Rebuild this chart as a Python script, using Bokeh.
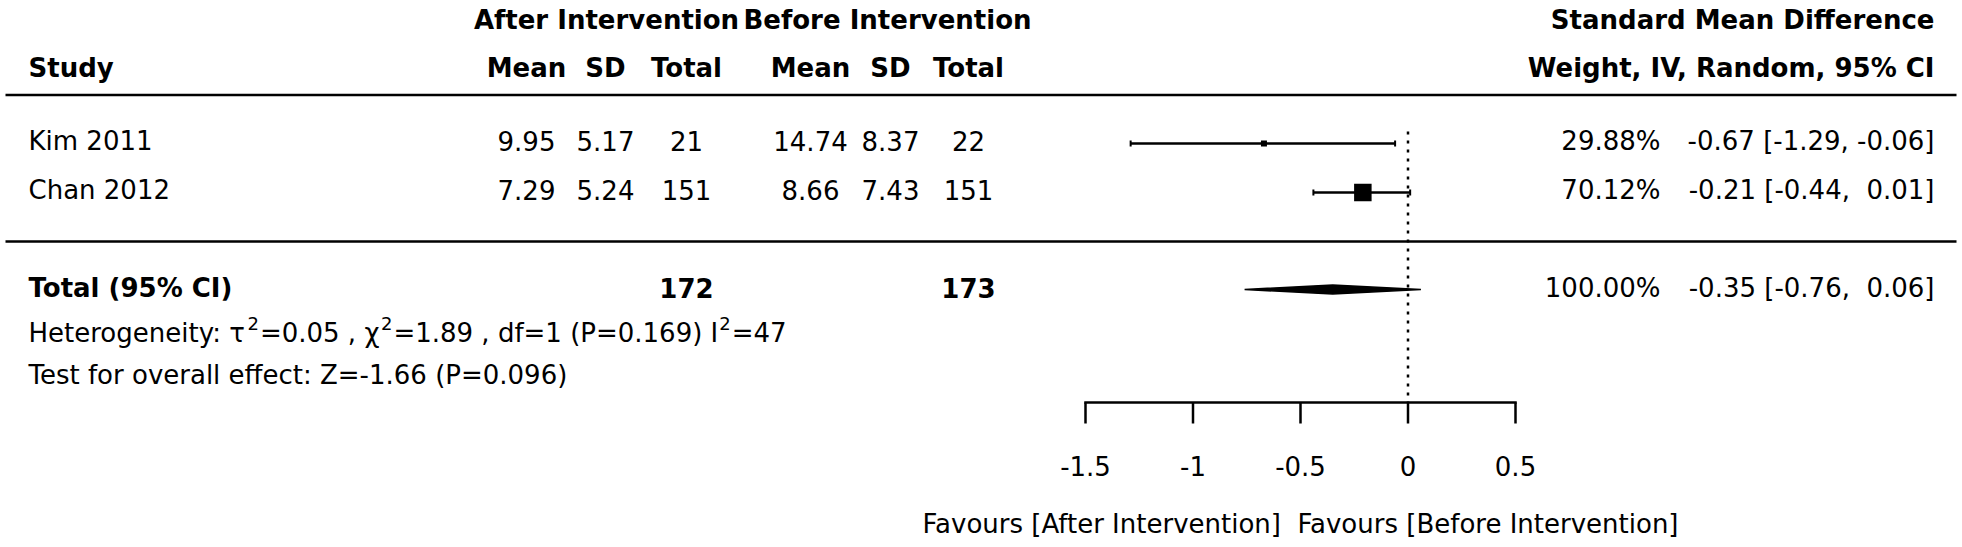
from bokeh.plotting import figure
from bokeh.models import Range1d, ColumnDataSource
from bokeh.core.properties import value
from bokeh.embed import file_html
from bokeh.resources import INLINE

# ---------------- data ----------------
studies = ["Kim 2011", "Chan 2012"]
after_mean = [9.95, 7.29]
after_sd = [5.17, 5.24]
after_total = [21, 151]
before_mean = [14.74, 8.66]
before_sd = [8.37, 7.43]
before_total = [22, 151]
weight_pct = [29.88, 70.12]
smd = [-0.67, -0.21]
smd_lo = [-1.29, -0.44]
smd_hi = [-0.06, 0.01]

total_after = 172
total_before = 173
pooled_weight = 100.00
pooled_smd = -0.35
pooled_lo = -0.76
pooled_hi = 0.06

tau2 = 0.05
chi2 = 1.89
het_df = 1
het_p = 0.169
i2 = 47
z_value = -1.66
z_p = 0.096

axis_ticks = [-1.5, -1, -0.5, 0, 0.5]
label_left = "Favours [After Intervention]"
label_right = "Favours [Before Intervention]"

# ---------------- layout (screen pixels) ----------------
W, H = 1962, 547
ZERO_PX, PX_PER_UNIT = 1407.5, 215.0

FONT = value("DejaVu Sans")
FS_PX = 26
FS = f"{FS_PX}px"
SUP_FS = "18px"

ROW_H1, ROW_H2 = 19, 67
ROW_STUDY = [140, 189]
MARK_STUDY = [143, 192]
ROW_TOTAL, MARK_TOTAL = 287, 289
ROW_HET, ROW_TEST = 332, 374
RULE_1, RULE_2 = 94.5, 241
RULE_X = (5, 1956)
Y_AXIS, TICK_LEN, Y_TICKLAB, Y_XLAB = 402, 21, 465, 523
REF_TOP = 131

X_LEFT = 28
COL_A = [526, 605, 686]
COL_B = [810, 890, 968]
HEAD_A, HEAD_B = 606, 887
X_WEIGHT = 1660
X_RIGHT = 1934
SQUARE_SIZE = [6, 17.5]

p = figure(width=W, height=H,
           x_range=Range1d(0, W), y_range=Range1d(H, 0),
           x_axis_type=None, y_axis_type=None,
           toolbar_location=None, output_backend="svg",
           min_border_left=0, min_border_right=0, min_border_top=0, min_border_bottom=0)
p.outline_line_color = None
p.background_fill_color = "white"
p.border_fill_color = "white"
p.extra_x_ranges = {"smd": Range1d((0 - ZERO_PX) / PX_PER_UNIT, (W - ZERO_PX) / PX_PER_UNIT)}


def add_text(xs, ys, texts, align, bold=False, size=FS, x_range_name="default"):
    src = ColumnDataSource(dict(x=xs, y=ys, t=texts))
    p.text(x="x", y="y", text="t", source=src, text_align=align, text_baseline="middle",
           text_font=FONT, text_font_size=size, text_color="black",
           text_font_style="bold" if bold else "normal", x_range_name=x_range_name)


# ---------------- effect-size axis (drawn on the SMD scale) ----------------
lo_t, hi_t = min(axis_ticks), max(axis_ticks)
p.segment(x0=[lo_t], x1=[hi_t], y0=[Y_AXIS], y1=[Y_AXIS], x_range_name="smd",
          line_color="black", line_width=2.5, line_cap="square")
p.segment(x0=axis_ticks, x1=axis_ticks, y0=[Y_AXIS] * len(axis_ticks),
          y1=[Y_AXIS + TICK_LEN] * len(axis_ticks), x_range_name="smd",
          line_color="black", line_width=2.5)
add_text(axis_ticks, [Y_TICKLAB] * len(axis_ticks), [f"{t:g}" for t in axis_ticks],
         "center", x_range_name="smd")
add_text([(lo_t + hi_t) / 2], [Y_XLAB], [label_left + " \u00a0" + label_right],
         "center", x_range_name="smd")

# ---------------- rules & reference line ----------------
p.segment(x0=[RULE_X[0]] * 2, x1=[RULE_X[1]] * 2, y0=[RULE_1, RULE_2], y1=[RULE_1, RULE_2],
          line_color="black", line_width=2.5)
p.segment(x0=[0], x1=[0], y0=[REF_TOP], y1=[Y_AXIS], x_range_name="smd",
          line_color="black", line_width=2.5, line_dash="3 6")

# ---------------- study marks ----------------
ci_src = ColumnDataSource(dict(lo=smd_lo, hi=smd_hi, est=smd, y=MARK_STUDY,
                               ya=[y - 3 for y in MARK_STUDY], yb=[y + 3 for y in MARK_STUDY],
                               size=SQUARE_SIZE))
p.segment(x0="lo", x1="hi", y0="y", y1="y", source=ci_src, x_range_name="smd",
          line_color="black", line_width=2.5)
p.segment(x0="lo", x1="lo", y0="ya", y1="yb", source=ci_src, x_range_name="smd",
          line_color="black", line_width=2)
p.segment(x0="hi", x1="hi", y0="ya", y1="yb", source=ci_src, x_range_name="smd",
          line_color="black", line_width=2)
p.scatter(x="est", y="y", size="size", marker="square", source=ci_src, x_range_name="smd",
          fill_color="black", line_color="black", line_width=0)

# pooled diamond
p.patch(x=[pooled_lo, pooled_smd, pooled_hi, pooled_smd],
        y=[MARK_TOTAL, MARK_TOTAL - 4.5, MARK_TOTAL, MARK_TOTAL + 4.5],
        x_range_name="smd", fill_color="black", line_color="black", line_width=1.5)

# ---------------- table texts ----------------
NBSP = "\u00a0"


def fmt_ci(e, lo, hi):
    return f"{e:.2f} [{lo:.2f}, {hi:5.2f}]".replace("  ", " " + NBSP)


add_text([HEAD_A, HEAD_B], [ROW_H1, ROW_H1], ["After Intervention", "Before Intervention"], "center", True)
add_text(COL_A + COL_B, [ROW_H2] * 6, ["Mean", "SD", "Total", "Mean", "SD", "Total"], "center", True)
add_text([X_LEFT, X_LEFT], [ROW_H2, ROW_TOTAL], ["Study", "Total (95% CI)"], "left", True)
add_text([X_RIGHT, X_RIGHT], [ROW_H1, ROW_H2],
         ["Standard Mean Difference", "Weight, IV, Random, 95% CI"], "right", True)
add_text([COL_A[2], COL_B[2]], [ROW_TOTAL, ROW_TOTAL], [str(total_after), str(total_before)], "center", True)

add_text([X_LEFT] * len(studies), ROW_STUDY, studies, "left")
cx, cy, ct = [], [], []
for i in range(len(studies)):
    vals = [f"{after_mean[i]:.2f}", f"{after_sd[i]:.2f}", str(after_total[i]),
            f"{before_mean[i]:.2f}", f"{before_sd[i]:.2f}", str(before_total[i])]
    for x, t in zip(COL_A + COL_B, vals):
        cx.append(x); cy.append(ROW_STUDY[i]); ct.append(t)
add_text(cx, cy, ct, "center")
add_text([X_WEIGHT] * (len(studies) + 1), ROW_STUDY + [ROW_TOTAL],
         [f"{w:.2f}%" for w in weight_pct] + [f"{pooled_weight:.2f}%"], "right")
add_text([X_RIGHT] * (len(studies) + 1), ROW_STUDY + [ROW_TOTAL],
         [fmt_ci(e, lo, hi) for e, lo, hi in zip(smd, smd_lo, smd_hi)]
         + [fmt_ci(pooled_smd, pooled_lo, pooled_hi)], "right")

# heterogeneity line, written plotmath-style with raised superscripts
ADV = {"H": .752, "e": .615, "t": .392, "r": .411, "o": .612, "g": .635, "n": .634, "i": .278,
       "y": .592, ":": .337, " ": .318, "\u03c4": .57, "=": .838, ".": .318, ",": .318,
       "\u03c7": .6, "d": .635, "f": .352, "(": .390, ")": .390, "P": .603, "I": .295}
for ch in "0123456789":
    ADV[ch] = .636


def text_w(s, px):
    return sum(ADV.get(c, .6) for c in s) * px


het_parts = ["Heterogeneity: \u03c4", f"={tau2:.2f} , \u03c7",
             f"={chi2:.2f} , df={het_df} (P={het_p:.3f}) I", f"={i2}"]
bx, by, bt, sx, sy, st = [], [], [], [], [], []
xcur = X_LEFT
for k, part in enumerate(het_parts):
    bx.append(xcur); by.append(ROW_HET); bt.append(part)
    xcur += text_w(part, FS_PX)
    if k < len(het_parts) - 1:
        sx.append(xcur + 1); sy.append(ROW_HET - 9); st.append("2")
        xcur += 1 + text_w("2", 18) + 1
add_text(bx, by, bt, "left")
add_text(sx, sy, st, "left", size=SUP_FS)

test_text = f"Test for overall effect: Z={z_value:.2f} (P={z_p:.3f})"
add_text([X_LEFT], [ROW_TEST], [test_text], "left")

open("out.html", "w").write(file_html(p, INLINE))
